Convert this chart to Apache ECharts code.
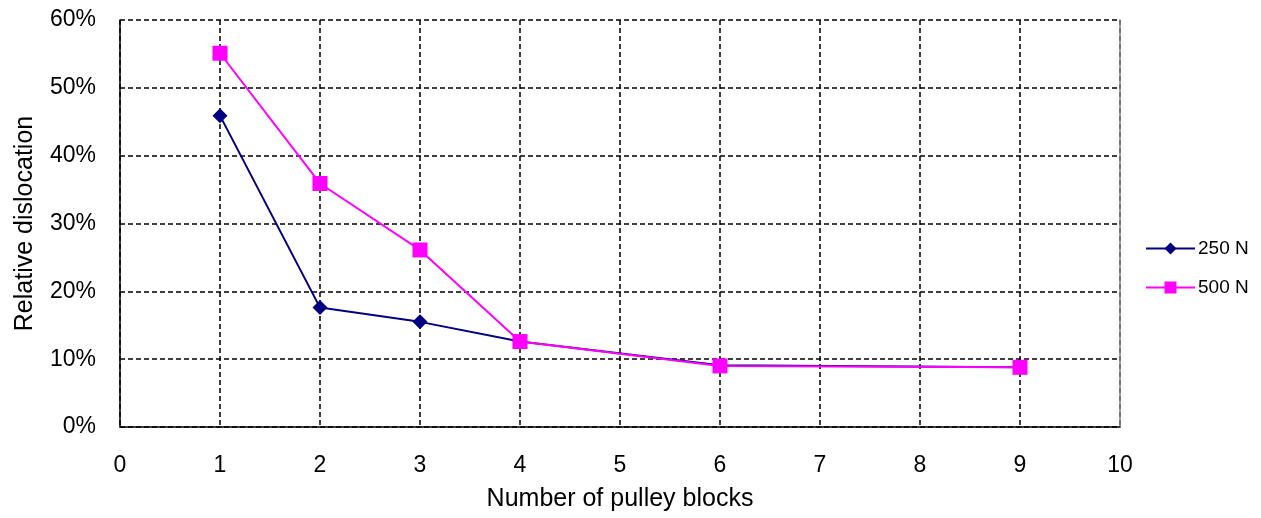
<!DOCTYPE html>
<html>
<head>
<meta charset="utf-8">
<script src="https://cdn.jsdelivr.net/npm/echarts@6/dist/echarts.min.js"></script>
<style>html,body{margin:0;padding:0;background:#fff;}#c{width:1261px;height:518px;}</style>
</head>
<body>
<div id="c"></div>
<script>
const xValues = [1, 2, 3, 4, 6, 9];
const series250 = [45.9, 17.6, 15.5, 12.6, 9.1, 8.8];
const series500 = [55.1, 35.9, 26.1, 12.6, 9.0, 8.8];
const seriesNames = ['250 N', '500 N'];

const chart = echarts.init(document.getElementById('c'));
const font = 'Liberation Sans, Arial, sans-serif';
chart.setOption({
  animation: false,
  grid: { left: 120, top: 20, right: 141, bottom: 91, containLabel: false, outerBoundsMode: 'none' },
  legend: {
    orient: 'vertical',
    left: 1140,
    top: 234,
    itemWidth: 49,
    itemHeight: 15,
    itemGap: 20,
    textStyle: { fontFamily: font, fontSize: 19, color: '#000', padding: [0,0,0,-2] },
    data: seriesNames
  },
  xAxis: {
    type: 'value', min: 0, max: 10, interval: 1,
    name: 'Number of pulley blocks', nameLocation: 'middle', nameGap: 60,
    nameTextStyle: { fontFamily: font, fontSize: 25, color: '#000' },
    axisLine: { lineStyle: { color: '#000', width: 1.5 } },
    axisTick: { show: false },
    axisLabel: { fontFamily: font, fontSize: 23, color: '#000', margin: 27 },
    splitLine: { show: true, lineStyle: { color: '#000', type: [5, 3], width: 1.5 } }
  },
  yAxis: [{
    type: 'value', min: 0, max: 60, interval: 10,
    name: 'Relative dislocation', nameLocation: 'middle', nameGap: 82,
    nameTextStyle: { fontFamily: font, fontSize: 25, color: '#000' },
    axisLine: { show: true, lineStyle: { color: '#000', width: 1.5 } },
    axisTick: { show: false },
    axisLabel: { fontFamily: font, fontSize: 23, color: '#000', margin: 24, formatter: '{value}%' },
    splitLine: { show: true, lineStyle: { color: '#000', type: [5, 3], width: 1.5 } }
  }, {
    type: 'value', min: 0, max: 60, interval: 10, position: 'right',
    axisLine: { show: true, lineStyle: { color: '#888', width: 1.5 } },
    axisTick: { show: false }, axisLabel: { show: false }, splitLine: { show: false }
  }],
  series: [{
    name: seriesNames[0], type: 'line',
    data: xValues.map((x, i) => [x, series250[i]]),
    symbol: 'diamond', symbolSize: 15,
    itemStyle: { color: '#000080' },
    lineStyle: { color: '#000080', width: 2 },
    z: 3
  }, {
    name: seriesNames[1], type: 'line',
    data: xValues.map((x, i) => [x, series500[i]]),
    symbol: 'rect', symbolSize: 15,
    itemStyle: { color: '#ff00ff' },
    lineStyle: { color: '#ff00ff', width: 2 },
    z: 4
  }]
});
</script>
</body>
</html>
